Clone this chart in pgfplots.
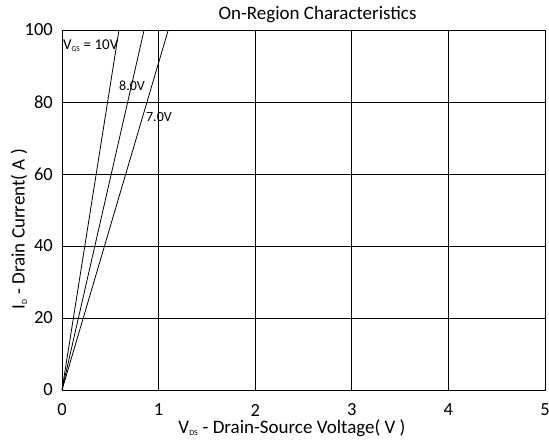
\documentclass[border=0pt]{standalone}
\usepackage{pgfplots}
\pgfplotsset{compat=1.18}
\usepackage{fontspec}
\setmainfont{Carlito}
\newcommand{\tickfont}{\fontsize{18.5}{20}\selectfont}
\begin{document}
\begin{tikzpicture}
\useasboundingbox (-62pt,-52pt) rectangle (487pt,390pt);
\begin{axis}[
  at={(0pt,0pt)}, anchor=south west,
  scale only axis, width=483pt, height=360pt,
  xmin=0, xmax=5, ymin=0, ymax=100,
  xtick={0,1,2,3,4,5}, ytick={0,20,40,60,80,100},
  xticklabels={0,1,2,3,4,5},
  yticklabels={0,20,40,60,80,100},
  grid=major, grid style={black, line width=0.7pt},
  axis line style={black, line width=0.9pt},
  tick style={draw=none},
  xticklabel style={font=\tickfont, inner sep=0pt, anchor=center, yshift=-20pt},
  yticklabel style={font=\tickfont, inner sep=0pt, anchor=east, xshift=-9pt},
  clip=true,
]
\addplot[black, line width=0.8pt] coordinates {(0,0) (0.59,100)};
\addplot[black, line width=0.8pt] coordinates {(0,0) (0.85,100)};
\addplot[black, line width=0.8pt] coordinates {(0,0) (1.10,100)};
\node[font=\fontsize{15}{17}\selectfont, anchor=west, inner sep=0pt] at (axis cs:0.01,95.6) {V\textsubscript{\fontsize{7.5}{8}\selectfont GS} = 10V};
\node[font=\fontsize{14}{16}\selectfont, inner sep=0pt] at (axis cs:0.725,84.4) {8.0V};
\node[font=\fontsize{14}{16}\selectfont, inner sep=0pt] at (axis cs:1.004,75.8) {7.0V};
\end{axis}
\node[font=\fontsize{19}{21}\selectfont, inner sep=0pt] at (255.5pt,375pt) {On-Region Characteristics};
\node[font=\fontsize{19}{21}\selectfont, inner sep=0pt] at (230pt,-38pt) {V\textsubscript{\fontsize{8}{9}\selectfont DS} - Drain-Source Voltage( V )};
\node[font=\fontsize{19}{21}\selectfont, inner sep=0pt, rotate=90] at (-43pt,161pt) {I\textsubscript{\fontsize{8}{9}\selectfont D} - Drain Current( A )};
\end{tikzpicture}
\end{document}
